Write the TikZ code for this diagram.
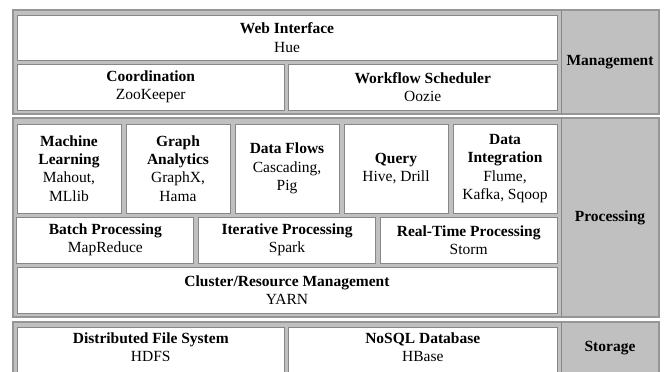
\documentclass[tikz,border=0pt]{standalone}
\usepackage{fontspec}
\setmainfont{Liberation Serif}
\definecolor{sectgray}{RGB}{192,192,192}
\definecolor{sectline}{RGB}{150,150,150}
\definecolor{cellline}{RGB}{135,135,135}
\tikzset{
  sect/.style={draw=sectline, fill=sectgray, line width=1.3pt},
  sepline/.style={draw=cellline, line width=1pt},
  cell/.style={draw=cellline, fill=white, line width=1pt, inner sep=0pt, align=center,
    font=\fontsize{15.5}{18.3}\selectfont},
  txt/.style={inner sep=0pt, align=center, font=\fontsize{15.5}{18.3}\selectfont},
  lbl/.style={inner sep=0pt, align=center, font=\fontsize{15.5}{18.3}\selectfont\bfseries},
}
\begin{document}
\begin{tikzpicture}[x=1pt,y=-1pt]
\useasboundingbox (0,0) rectangle (664,372);
\clip (0,0) rectangle (664,372);
\fill[white] (0,0) rectangle (664,372);
% Management
\draw[sect] (13,10) rectangle (659,114);
\draw[sepline] (561,10) -- (561,114);
\node[cell, minimum width=540pt, minimum height=45pt] (web) at (287,37.5) {\textbf{Web Interface}\\Hue};
\node[cell, minimum width=267.5pt, minimum height=46pt] (coord) at (150.75,87) {\textbf{Coordination}\\ZooKeeper};
\node[cell, minimum width=268.5pt, minimum height=46pt] (wf) at (422.75,87) {\textbf{Workflow Scheduler}\\Oozie};
\node[lbl] (mgmt) at (610,62) {Management};
% Processing
\draw[sect] (13,118) rectangle (659,317);
\draw[sepline] (561,118) -- (561,317);
\node[cell, minimum width=104pt, minimum height=89pt] (ml) at (69,168.5) {\textbf{Machine}\\\textbf{Learning}\\Mahout,\\MLlib};
\node[cell, minimum width=104pt, minimum height=89pt] (ga) at (178,168.5) {\textbf{Graph}\\\textbf{Analytics}\\GraphX,\\Hama};
\node[cell, minimum width=104pt, minimum height=89pt] (df) at (287,168.5) {\textbf{Data Flows}\\Cascading,\\Pig};
\node[cell, minimum width=104pt, minimum height=89pt] (qu) at (396,168.5) {\textbf{Query}\\Hive, Drill};
\node[cell, minimum width=104pt, minimum height=89pt] (di) at (505,168.5) {\textbf{Data}\\\textbf{Integration}\\Flume,\\Kafka, Sqoop};
\node[cell, minimum width=176.67pt, minimum height=46pt] (bp) at (105.33,240) {\textbf{Batch Processing}\\MapReduce};
\node[cell, minimum width=176.67pt, minimum height=46pt] (ip) at (287,240) {\textbf{Iterative Processing}\\Spark};
\node[cell, minimum width=176.67pt, minimum height=46pt] (rt) at (468.67,240) {\textbf{Real-Time Processing}\\Storm};
\node[cell, minimum width=540pt, minimum height=46pt] (yarn) at (287,290) {\textbf{Cluster/Resource Management}\\YARN};
\node[lbl] (proc) at (610,217.5) {Processing};
% Storage
\draw[sect] (13,322) rectangle (659,380);
\draw[sepline] (561,322) -- (561,380);
\node[cell, minimum width=267.5pt, minimum height=50pt] (dfsbox) at (150.75,352) {};
\node[cell, minimum width=268.5pt, minimum height=50pt] (nosqlbox) at (422.75,352) {};
\node[txt] (dfs) at (150.75,347) {\textbf{Distributed File System}\\HDFS};
\node[txt] (nosql) at (422.75,347) {\textbf{NoSQL Database}\\HBase};
\node[lbl] (stor) at (610,348) {Storage};
\end{tikzpicture}
\end{document}
